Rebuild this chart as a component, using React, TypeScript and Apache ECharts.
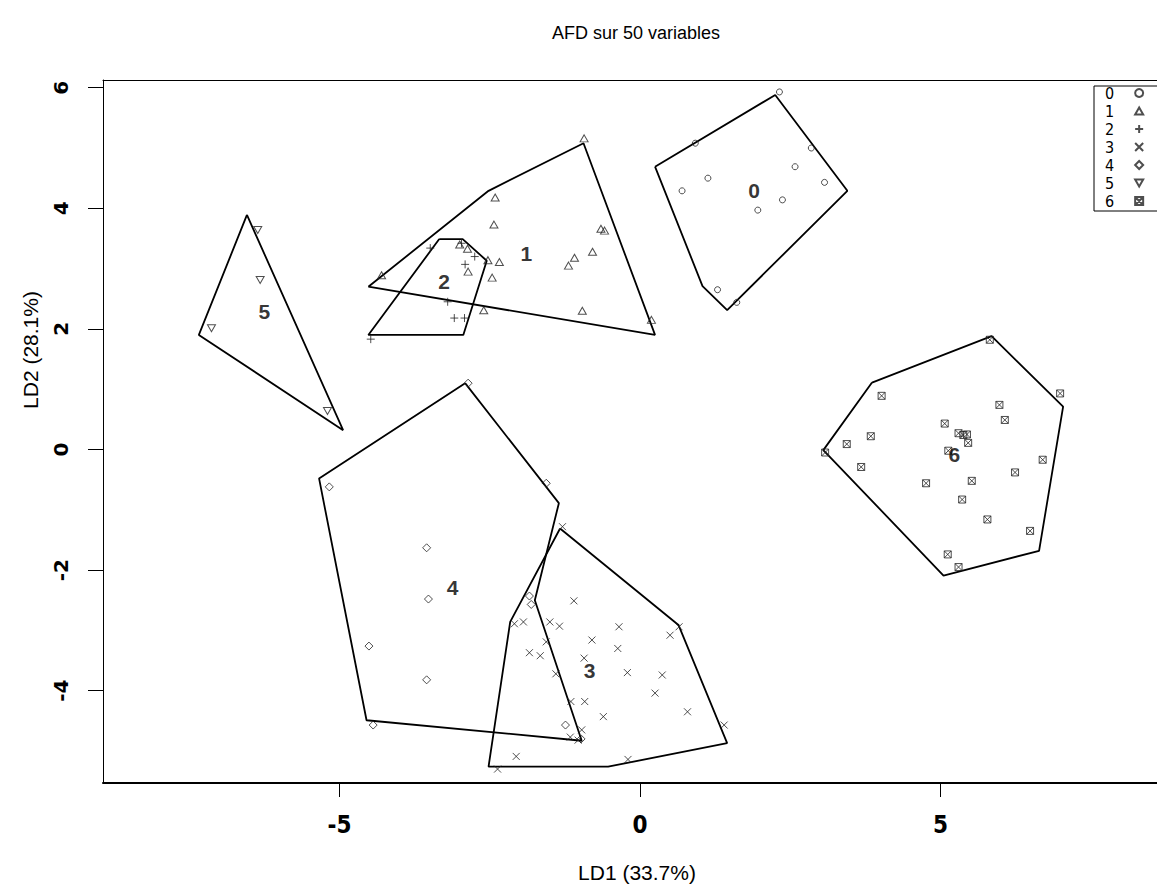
import React, { useEffect, useRef } from "react";
import * as echarts from "echarts";

// Discriminant scores (LD1, LD2) per group
const group0: [number, number][] = [
  [2.32, 5.93], [0.92, 5.08], [2.85, 5.0], [2.58, 4.69], [1.13, 4.5], [3.07, 4.43],
  [0.7, 4.29], [2.37, 4.14], [1.96, 3.97], [1.29, 2.65], [1.61, 2.44],
];
const group1: [number, number][] = [
  [-0.93, 5.16], [-2.41, 4.18], [-2.43, 3.73], [-0.65, 3.66], [-0.59, 3.63], [-0.79, 3.28],
  [-1.09, 3.18], [-1.19, 3.05], [-2.34, 3.11], [-2.53, 3.14], [-2.46, 2.85], [-2.87, 3.33],
  [-3.0, 3.4], [-2.86, 2.95], [-4.3, 2.89], [-2.6, 2.31], [-0.96, 2.3], [0.19, 2.15],
];
const group2: [number, number][] = [
  [-3.49, 3.34], [-2.97, 3.42], [-2.75, 3.2], [-2.91, 3.07], [-3.2, 2.45], [-3.09, 2.18],
  [-2.92, 2.18], [-4.48, 1.83],
];
const group3: [number, number][] = [
  [-1.29, -1.28], [-1.1, -2.51], [-2.09, -2.89], [-1.94, -2.86], [-1.5, -2.86], [-1.34, -2.93],
  [-1.56, -3.19], [-1.84, -3.37], [-1.66, -3.42], [-1.4, -3.72], [-0.35, -2.94], [-0.8, -3.16],
  [-0.37, -3.3], [-0.93, -3.46], [0.5, -3.08], [0.65, -2.94], [-0.21, -3.7], [0.37, -3.74],
  [0.25, -4.04], [-1.15, -4.18], [-0.92, -4.18], [-0.61, -4.43], [0.79, -4.35], [1.4, -4.57],
  [-0.97, -4.65], [-1.16, -4.77], [-1.03, -4.82], [-2.06, -5.09], [-2.37, -5.3], [-0.2, -5.14],
];
const group4: [number, number][] = [
  [-2.86, 1.1], [-5.17, -0.62], [-1.56, -0.56], [-3.55, -1.63], [-3.52, -2.48], [-4.51, -3.26],
  [-3.55, -3.82], [-4.44, -4.57], [-1.84, -2.43], [-1.81, -2.57], [-1.24, -4.57], [-0.98, -4.8],
];
const group5: [number, number][] = [
  [-6.36, 3.64], [-6.32, 2.81], [-7.13, 2.01], [-5.2, 0.64],
];
const group6: [number, number][] = [
  [5.82, 1.82], [6.99, 0.93], [4.02, 0.89], [5.98, 0.74], [6.07, 0.49], [5.07, 0.43],
  [5.3, 0.27], [5.38, 0.24], [5.44, 0.25], [5.46, 0.11], [3.84, 0.22], [3.44, 0.09],
  [3.08, -0.05], [5.13, -0.02], [3.68, -0.29], [6.7, -0.17], [6.24, -0.38], [4.76, -0.56],
  [5.52, -0.52], [5.36, -0.83], [5.78, -1.16], [6.49, -1.35], [5.12, -1.74], [5.3, -1.95],
];

// Outline polygons around each group
const hull0: [number, number][] = [[0.25, 4.69], [2.25, 5.88], [3.45, 4.29], [1.45, 2.31], [1.04, 2.71]];
const hull1: [number, number][] = [[-4.52, 2.7], [-2.52, 4.29], [-0.94, 5.08], [0.25, 1.9]];
const hull2: [number, number][] = [[-3.34, 3.49], [-2.95, 3.49], [-2.55, 3.13], [-2.94, 1.9], [-4.52, 1.9]];
const hull3: [number, number][] = [[-1.33, -1.31], [0.64, -2.91], [1.45, -4.87], [-0.53, -5.26], [-2.52, -5.26], [-2.16, -2.86]];
const hull4: [number, number][] = [[-2.91, 1.1], [-1.35, -0.89], [-1.75, -2.5], [-0.97, -4.83], [-4.55, -4.49], [-5.34, -0.48]];
const hull5: [number, number][] = [[-6.54, 3.89], [-7.34, 1.9], [-4.94, 0.32]];
const hull6: [number, number][] = [[3.86, 1.11], [5.85, 1.88], [7.04, 0.71], [6.64, -1.68], [5.05, -2.09], [3.05, -0.01]];

// Group label positions
const centers: [number, number][] = [
  [1.9, 4.3], [-1.89, 3.25], [-3.26, 2.78], [-0.84, -3.67], [-3.12, -2.29], [-6.25, 2.29], [5.23, -0.08],
];

const groupNames = ["0", "1", "2", "3", "4", "5", "6"];
const xTicks = [-5, 0, 5];
const yTicks = [-4, -2, 0, 2, 4, 6];

const groups = [group0, group1, group2, group3, group4, group5, group6];
const hulls = [hull0, hull1, hull2, hull3, hull4, hull5, hull6];

const symbols: string[] = [
  "circle",
  "path://M5 0L10 8.66L0 8.66Z",
  "path://M5 0L5 10M0 5L10 5",
  "path://M0 0L10 10M10 0L0 10",
  "path://M5 0L10 5L5 10L0 5Z",
  "path://M0 0L10 0L5 8.66Z",
  "path://M0 0L10 0L10 10L0 10ZM0 0L10 10M10 0L0 10",
];
const symbolSizes: (number | number[])[] = [6, [8, 7], 8, 7, 8, [8, 7], 7];

const NARROW = "'DejaVu Sans Condensed', 'Liberation Sans', Arial, sans-serif";
const SANS = "'Liberation Sans', Arial, sans-serif";

const X_MIN = -8.935;
const X_MAX = 8.602;
const Y_MIN = -5.531;
const Y_MAX = 6.128;

export default function App() {
  const ref = useRef<HTMLDivElement>(null);

  useEffect(() => {
    if (!ref.current) return;
    const chart = echarts.init(ref.current, null, { renderer: "svg" });

    const pointSeries = groups.map((g, i) => ({
      name: groupNames[i],
      type: "scatter",
      data: g,
      symbol: symbols[i],
      symbolSize: symbolSizes[i],
      itemStyle: { color: "rgba(0,0,0,0)", borderColor: "#222", borderWidth: 1 },
      z: 3,
      silent: true,
    }));

    const hullSeries = hulls.map((h, i) => ({
      name: "hull" + groupNames[i],
      type: "line",
      data: [...h, h[0]],
      showSymbol: false,
      symbol: "none",
      lineStyle: { color: "#000", width: 1.8 },
      z: 2,
      silent: true,
    }));

    const labelSeries = {
      name: "labels",
      type: "scatter",
      data: centers.map((c, i) => ({ value: c, name: groupNames[i] })),
      symbolSize: 0,
      label: {
        show: true,
        position: "inside",
        formatter: "{b}",
        color: "#000",
        fontFamily: SANS,
        fontWeight: "bold",
        fontSize: 21,
      },
      z: 4,
      silent: true,
    };

    chart.setOption({
      animation: false,
      backgroundColor: "#fff",
      title: {
        text: "AFD sur 50 variables",
        left: 631,
        top: 19,
        textAlign: "center",
        textStyle: { fontFamily: SANS, fontWeight: "normal", fontSize: 18, color: "#000" },
      },
      grid: {
        left: 103,
        top: 80,
        right: 0,
        height: 703,
        show: false,
      },
      xAxis: [
        {
          type: "value",
          min: X_MIN,
          max: X_MAX,
          splitLine: { show: false },
          axisLine: { show: true, onZero: false, lineStyle: { color: "#000", width: 2 } },
          axisTick: { show: true, customValues: xTicks, length: 14, lineStyle: { color: "#000" } },
          axisLabel: {
            customValues: xTicks,
            margin: 30,
            color: "#000",
            fontFamily: NARROW,
            fontWeight: "bold",
            fontSize: 24,
          },
        },
        {
          // top frame line of the plotting region
          type: "value",
          position: "top",
          min: X_MIN,
          max: X_MAX,
          splitLine: { show: false },
          axisLine: { show: true, onZero: false, lineStyle: { color: "#000", width: 1 } },
          axisTick: { show: false },
          axisLabel: { show: false },
        },
      ],
      yAxis: {
        type: "value",
        min: Y_MIN,
        max: Y_MAX,
        splitLine: { show: false },
        axisLine: { show: true, onZero: false, lineStyle: { color: "#000", width: 1 } },
        axisTick: { show: true, customValues: yTicks, length: 15, lineStyle: { color: "#000" } },
        axisLabel: {
          customValues: yTicks,
          rotate: 90,
          margin: 32,
          color: "#000",
          fontFamily: "'DejaVu Sans', sans-serif",
          fontWeight: "bold",
          fontSize: 20,
        },
      },
      legend: {
        data: groupNames,
        orient: "vertical",
        left: 1100,
        top: 80,
        align: "right",
        itemWidth: 8,
        itemHeight: 8,
        itemGap: 2,
        selectedMode: false,
        textStyle: {
          fontFamily: NARROW,
          fontSize: 16,
          lineHeight: 16,
          color: "#000",
          padding: [0, 16, 0, 0],
        },
      },
      graphic: [
        {
          type: "rect",
          shape: { x: 1094, y: 86, width: 90, height: 125 },
          style: { fill: "none", stroke: "#000", lineWidth: 1 },
          z: 10,
        },
        {
          type: "text",
          x: 637,
          y: 872,
          style: {
            text: "LD1 (33.7%)",
            font: "21px 'Liberation Sans', Arial, sans-serif",
            fill: "#000",
            textAlign: "center",
            textVerticalAlign: "middle",
          },
        },
        {
          type: "text",
          x: 30,
          y: 350,
          rotation: Math.PI / 2,
          style: {
            text: "LD2 (28.1%)",
            font: "21px 'Liberation Sans', Arial, sans-serif",
            fill: "#000",
            textAlign: "center",
            textVerticalAlign: "middle",
          },
        },
      ],
      series: [...hullSeries, ...pointSeries, labelSeries],
    });

    return () => chart.dispose();
  }, []);

  return (
    <div
      ref={ref}
      style={{ position: "fixed", left: 0, top: 0, width: 1157, height: 884, background: "#fff" }}
    />
  );
}
